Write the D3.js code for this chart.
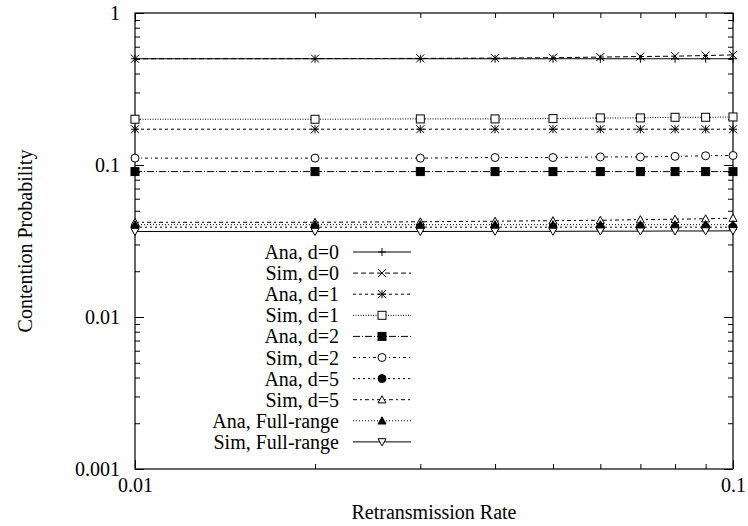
<!DOCTYPE html>
<html>
<head>
<meta charset="utf-8">
<script src="https://d3js.org/d3.v7.min.js"></script>
<style>
body { margin: 0; background: #fff; }
text { font-family: "Liberation Serif", "Times New Roman", serif; fill: #000; }
.axis path { display: none; }
.axis line { stroke: #000; stroke-width: 1; }
</style>
</head>
<body>
<script>
// retransmission rates on the x axis
var rates = [0.01, 0.02, 0.03, 0.04, 0.05, 0.06, 0.07, 0.08, 0.09, 0.1];

// contention probability per series
var anaD0  = [0.5, 0.5, 0.5, 0.5, 0.5, 0.5, 0.5, 0.5, 0.5, 0.5];
var simD0  = [0.5, 0.501, 0.503, 0.505, 0.508, 0.513, 0.517, 0.52, 0.525, 0.53];
var anaD1  = [0.172, 0.172, 0.172, 0.172, 0.172, 0.172, 0.172, 0.172, 0.172, 0.172];
var simD1  = [0.2, 0.2, 0.201, 0.201, 0.202, 0.204, 0.204, 0.206, 0.206, 0.207];
var anaD2  = [0.0905, 0.0905, 0.0905, 0.0905, 0.0905, 0.0905, 0.0905, 0.0905, 0.0905, 0.0905];
var simD2  = [0.111, 0.111, 0.111, 0.112, 0.112, 0.113, 0.113, 0.114, 0.115, 0.1155];
var anaD5  = [0.039, 0.039, 0.039, 0.039, 0.039, 0.039, 0.039, 0.039, 0.039, 0.039];
var simD5  = [0.042, 0.042, 0.0423, 0.0427, 0.043, 0.0433, 0.0437, 0.044, 0.0443, 0.0447];
var anaFR  = [0.0405, 0.0405, 0.0405, 0.0405, 0.0405, 0.0405, 0.0405, 0.0405, 0.0405, 0.0405];
var simFR  = [0.0365, 0.0365, 0.0365, 0.0366, 0.0366, 0.0367, 0.0367, 0.0368, 0.0368, 0.0369];

var names = ["Ana, d=0", "Sim, d=0", "Ana, d=1", "Sim, d=1", "Ana, d=2",
             "Sim, d=2", "Ana, d=5", "Sim, d=5", "Ana, Full-range", "Sim, Full-range"];
var values = [anaD0, simD0, anaD1, simD1, anaD2, simD2, anaD5, simD5, anaFR, simFR];
var dashes = ["none", "5,3", "3,3", "1,1.5", "7,2,1,2", "3,3,1,3", "2,3", "4,3,2,3", "1,2", "none"];
var markers = ["plus", "cross", "star", "square", "fsquare", "circle", "fcircle", "tri", "ftri", "itri"];

var xTicks = [0.01, 0.1];
var yTicks = [0.001, 0.01, 0.1, 1];

var W = 748, H = 526;
var mLeft = 135, mRight = 733, mTop = 13, mBottom = 469;

var svg = d3.select("body").append("svg")
    .attr("width", W).attr("height", H);

var x = d3.scaleLog().domain([0.01, 0.1]).range([mLeft, mRight]);
var y = d3.scaleLog().domain([0.001, 1]).range([mBottom, mTop]);

// minor tick values
var xMinor = rates.filter(function(r) { return r > 0.01 && r < 0.1; });
var yMinor = [];
[0.001, 0.01, 0.1].forEach(function(b) {
  for (var k = 2; k <= 9; k++) yMinor.push(b * k);
});

function addAxis(axis, tx, ty) {
  svg.append("g").attr("class", "axis")
    .attr("transform", "translate(" + tx + "," + ty + ")")
    .call(axis);
}

var fmt = function(d) { return String(+d.toPrecision(1)); };

addAxis(d3.axisLeft(y).tickValues(yTicks).tickSize(-9).tickPadding(15).tickFormat(fmt), mLeft, 0);
addAxis(d3.axisLeft(y).tickValues(yMinor).tickSize(-5).tickFormat(""), mLeft, 0);
addAxis(d3.axisRight(y).tickValues(yTicks).tickSize(-9).tickFormat(""), mRight, 0);
addAxis(d3.axisRight(y).tickValues(yMinor).tickSize(-5).tickFormat(""), mRight, 0);
addAxis(d3.axisBottom(x).tickValues(xTicks).tickSize(-9).tickPadding(9).tickFormat(fmt), 0, mBottom);
addAxis(d3.axisBottom(x).tickValues(xMinor).tickSize(-5).tickFormat(""), 0, mBottom);
addAxis(d3.axisTop(x).tickValues(xTicks).tickSize(-9).tickFormat(""), 0, mTop);
addAxis(d3.axisTop(x).tickValues(xMinor).tickSize(-5).tickFormat(""), 0, mTop);

svg.selectAll(".axis text").attr("font-size", 20).attr("font-family", "Liberation Serif, serif");

// frame
svg.append("rect")
  .attr("x", mLeft).attr("y", mTop)
  .attr("width", mRight - mLeft).attr("height", mBottom - mTop)
  .attr("fill", "none").attr("stroke", "#000").attr("stroke-width", 1.2);

// axis titles
svg.append("text")
  .attr("transform", "translate(25," + ((mTop + mBottom) / 2) + ") rotate(-90)")
  .attr("text-anchor", "middle").attr("dy", "0.35em")
  .attr("font-size", 20)
  .text("Contention Probability");

svg.append("text")
  .attr("x", (mLeft + mRight) / 2).attr("y", 512)
  .attr("text-anchor", "middle").attr("dy", "0.35em")
  .attr("font-size", 20)
  .text("Retransmission Rate");

// marker drawing
function drawMarker(g, type, cx, cy) {
  var s = 4;
  function ap(tag) {
    return g.append(tag).attr("stroke", "#000").attr("stroke-width", 1).attr("fill", "none");
  }
  if (type === "plus") {
    ap("path").attr("d", "M" + (cx - s) + "," + cy + "H" + (cx + s) + "M" + cx + "," + (cy - s) + "V" + (cy + s));
  } else if (type === "cross") {
    ap("path").attr("d", "M" + (cx - s) + "," + (cy - s) + "L" + (cx + s) + "," + (cy + s) +
      "M" + (cx - s) + "," + (cy + s) + "L" + (cx + s) + "," + (cy - s));
  } else if (type === "star") {
    ap("path").attr("d", "M" + (cx - s) + "," + cy + "H" + (cx + s) + "M" + cx + "," + (cy - s) + "V" + (cy + s) +
      "M" + (cx - s) + "," + (cy - s) + "L" + (cx + s) + "," + (cy + s) +
      "M" + (cx - s) + "," + (cy + s) + "L" + (cx + s) + "," + (cy - s));
  } else if (type === "square" || type === "fsquare") {
    ap("rect").attr("x", cx - s).attr("y", cy - s).attr("width", 2 * s).attr("height", 2 * s)
      .attr("fill", type === "fsquare" ? "#000" : "#fff");
  } else if (type === "circle" || type === "fcircle") {
    ap("circle").attr("cx", cx).attr("cy", cy).attr("r", s)
      .attr("fill", type === "fcircle" ? "#000" : "#fff");
  } else if (type === "tri" || type === "ftri") {
    ap("path").attr("d", "M" + cx + "," + (cy - s) + "L" + (cx + s) + "," + (cy + s * 0.8) + "L" + (cx - s) + "," + (cy + s * 0.8) + "Z")
      .attr("fill", type === "ftri" ? "#000" : "#fff");
  } else if (type === "itri") {
    ap("path").attr("d", "M" + cx + "," + (cy + s) + "L" + (cx + s) + "," + (cy - s * 0.8) + "L" + (cx - s) + "," + (cy - s * 0.8) + "Z")
      .attr("fill", "#fff");
  }
}

var line = d3.line()
  .x(function(d) { return x(d[0]); })
  .y(function(d) { return y(d[1]); });

values.forEach(function(vals, i) {
  var pts = rates.map(function(r, j) { return [r, vals[j]]; });
  svg.append("path")
    .datum(pts)
    .attr("d", line)
    .attr("fill", "none")
    .attr("stroke", "#000")
    .attr("stroke-width", 1)
    .attr("stroke-dasharray", dashes[i]);
  var g = svg.append("g");
  pts.forEach(function(p) { drawMarker(g, markers[i], x(p[0]), y(p[1])); });
});

// legend
var legX = 339, legY = 252, legStep = 21.1;
names.forEach(function(n, i) {
  var ly = legY + i * legStep;
  svg.append("text")
    .attr("x", legX).attr("y", ly).attr("dy", "0.35em")
    .attr("text-anchor", "end").attr("font-size", 20)
    .text(n);
  svg.append("line")
    .attr("x1", 353).attr("x2", 411).attr("y1", ly).attr("y2", ly)
    .attr("stroke", "#000").attr("stroke-width", 1)
    .attr("stroke-dasharray", dashes[i]);
  drawMarker(svg.append("g"), markers[i], 382, ly);
});
</script>
</body>
</html>
